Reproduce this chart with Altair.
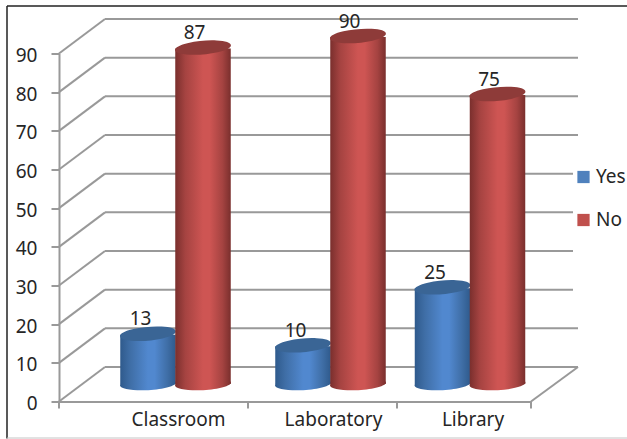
import altair as alt
import pandas as pd

categories = ["Classroom", "Laboratory", "Library"]
yes_values = [13, 10, 25]
no_values = [87, 90, 75]
axis_values = [0, 10, 20, 30, 40, 50, 60, 70, 80, 90]
series_names = ["Yes", "No"]

PLOT_W, PLOT_H = 472, 348
UNITS_PER_PX = 90 / PLOT_H
DEPTH_X, DEPTH_Y = 46, 34.5
MID_Y = 17.5
HALF = 27.5
BAR_W = 55.5
HEAD_CAP = "M-0.996,0.087 A1,0.24,-5,1,1,0.996,-0.087 A1,0.24,-5,1,1,-0.996,0.087 Z"
FOOT_CAP = "M-0.999,0.052 A1,0.22,-3,1,1,0.999,-0.052 A1,0.22,-3,1,1,-0.999,0.052 Z"
CAP_SIZE = 56 ** 2
FONT = "Noto Sans"
FONT_SIZE = 19
GREY = "#999999"
INK = "#262626"


def shaded(edge, shoulder, mid):
    stops = [(0, edge), (0.18, shoulder), (0.5, mid), (0.62, mid), (0.85, shoulder), (1, edge)]
    return alt.LinearGradient(
        gradient="linear", x1=0, x2=1, y1=0, y2=0,
        stops=[alt.GradientStop(offset=o, color=c) for o, c in stops],
    )


# Category slots: half-steps are the tick boundaries on the floor edge.
x_scale = alt.Scale(
    domain=[-0.5, 0, 0.5, 1, 1.5, 2, 2.5],
    range=[0, 116.5, 189, 271.5, 338, 411, 472],
    padding=0,
)
y_scale = alt.Scale(domain=[0, 90], range=[PLOT_H, 0])

x_axis_cfg = alt.Axis(
    values=[0, 1, 2], title=None, grid=False, ticks=False, domainColor=GREY, domainWidth=2,
    labelExpr="['" + "','".join(categories) + "'][datum.value]",
    labelFont=FONT, labelFontSize=FONT_SIZE, labelColor=INK, labelPadding=9, labelOffset=2.5,
    labelFlush=False, labelOverlap=False,
)
y_axis_cfg = alt.Axis(
    values=axis_values, title=None, grid=False, domainColor=GREY, domainWidth=2,
    tickColor=GREY, tickWidth=2, tickSize=8, labelFont=FONT, labelFontSize=FONT_SIZE,
    labelColor=INK, labelPadding=14, labelOffset=2,
)
X = alt.X("slot:Q", scale=x_scale, axis=x_axis_cfg)
Y = alt.Y("value:Q", scale=y_scale, axis=y_axis_cfg)

grid = pd.DataFrame({"value": axis_values})
grid["back"] = grid["value"] + DEPTH_Y * UNITS_PER_PX

wall_rise = alt.Chart(grid).mark_rule(color=GREY, strokeWidth=2).encode(
    x=alt.value(0), x2=alt.value(DEPTH_X), y=Y, y2="back:Q",
)
wall_back = alt.Chart(grid).mark_rule(color=GREY, strokeWidth=2).encode(
    x=alt.value(DEPTH_X), x2=alt.value(519),
    y=alt.Y("back:Q", scale=y_scale, axis=y_axis_cfg),
)
floor_side = alt.Chart(pd.DataFrame({"value": [0], "back": [DEPTH_Y * UNITS_PER_PX]})).mark_rule(
    color=GREY, strokeWidth=2
).encode(x=alt.value(472), x2=alt.value(519), y=Y, y2="back:Q")

# Legend area sits on top of the right-hand ends of the middle wall lines.
legend_patch = alt.Chart(pd.DataFrame({"k": [0]})).mark_rect(color="white").encode(
    x=alt.value(514), x2=alt.value(522), y=alt.value(100), y2=alt.value(250),
)

# Frame around the whole figure.
frame_top = alt.Chart(pd.DataFrame({"k": [0]})).mark_rule(color="#222222", strokeWidth=1.5).encode(
    x=alt.value(-52), x2=alt.value(568), y=alt.value(-47.5),
)
frame_left = alt.Chart(pd.DataFrame({"k": [0]})).mark_rule(color="#222222", strokeWidth=1.5).encode(
    x=alt.value(-52), y=alt.value(-47.5), y2=alt.value(385),
)
frame_bottom = alt.Chart(pd.DataFrame({"k": [0]})).mark_rule(color="#c4c4c4", strokeWidth=1).encode(
    x=alt.value(-52), x2=alt.value(568), y=alt.value(384.5),
)

floor_ticks = alt.Chart(pd.DataFrame({"slot": [-0.5, 0.5, 1.5, 2.5]})).mark_rule(
    color=GREY, strokeWidth=2
).encode(x=X, y=alt.value(PLOT_H), y2=alt.value(PLOT_H + 7))


def cylinder(values, offset, edge, shoulder, mid, top, label_shift):
    frame = pd.DataFrame({
        "slot": range(len(values)),
        "value": values,
        "base": [0] * len(values),
    })
    base = alt.Chart(frame)
    fill = shaded(edge, shoulder, mid)
    foot = base.mark_point(
        shape=FOOT_CAP, size=CAP_SIZE, filled=True, opacity=1, strokeWidth=0,
        fill=fill, xOffset=offset, yOffset=-MID_Y,
    ).encode(x=X, y=alt.Y("base:Q", scale=y_scale, axis=y_axis_cfg))
    body = base.mark_bar(
        width=BAR_W, fill=fill, orient="vertical",
        xOffset=offset, yOffset=-MID_Y + 1, y2Offset=-MID_Y,
    ).encode(x=X, y=Y, y2="base:Q")
    head = base.mark_point(
        shape=HEAD_CAP, size=CAP_SIZE, filled=True, opacity=1, strokeWidth=0,
        fill=top, xOffset=offset, yOffset=-MID_Y,
    ).encode(x=X, y=Y)
    text = base.mark_text(
        font=FONT, fontSize=FONT_SIZE, color=INK, baseline="alphabetic",
        xOffset=offset + label_shift, yOffset=-26,
    ).encode(x=X, y=Y, text="value:Q")
    return foot + body + head + text


legend_layer = alt.Chart(pd.DataFrame({"series": series_names})).mark_square(size=0).encode(
    color=alt.Color(
        "series:N",
        scale=alt.Scale(domain=series_names, range=["#4f81bd", "#c0504d"]),
        legend=alt.Legend(
            title=None, orient="none", legendX=515, legendY=114, symbolType="square",
            symbolSize=150, symbolStrokeWidth=0, symbolOpacity=1, labelFont=FONT,
            labelFontSize=19, labelColor=INK, rowPadding=23, labelOffset=3,
        ),
    ),
)

chart = alt.layer(
    frame_top, frame_left, frame_bottom,
    wall_rise, wall_back, floor_side, legend_patch, floor_ticks,
    cylinder(yes_values, -HALF, "#2f5a8c", "#3f6ea6", "#5188cf", "#3a6595", -7.5),
    cylinder(no_values, HALF, "#7a2f2d", "#a54341", "#ce5553", "#8e3b39", -8.5),
    legend_layer,
).properties(
    width=PLOT_W, height=PLOT_H,
    padding={"left": 59, "top": 53.5, "right": 96, "bottom": 37.5},
    autosize=alt.AutoSizeParams(type="none"),
    background="white",
).configure_view(stroke=None)

chart.save("out.html", embed_options={"renderer": "svg", "actions": False})
